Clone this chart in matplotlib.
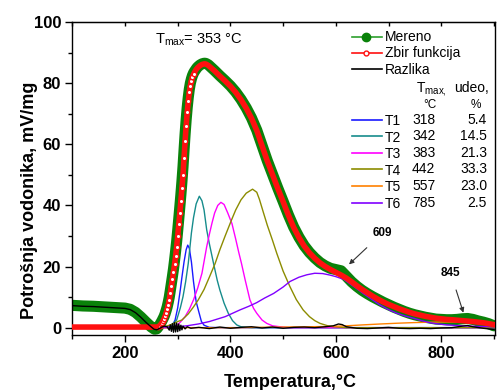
import numpy as np
import matplotlib
matplotlib.use("Agg")
import matplotlib.pyplot as plt
from matplotlib.ticker import MultipleLocator

plt.rcParams['font.family'] = ['Liberation Sans', 'DejaVu Sans']
plt.rcParams['mathtext.default'] = 'regular'

# ---- data ----
# temperature grid for measured / fitted curves (deg C)
T_main = np.concatenate([[100, 120, 140, 160, 180, 200, 210, 220, 230, 240, 250, 256, 260],
                         np.arange(262, 362, 2), np.arange(370, 910, 10)])

mereno = [7.3, 7.1, 7.0, 6.8, 6.6, 6.4, 6.0, 5.0, 3.5, 1.8, 0.2, -0.5, -0.4,
          0.0, 0.5, 1.0, 1.6, 2.2, 2.9, 3.6, 4.5, 5.6, 6.8, 8.3, 10.0, 12.2, 14.5, 16.8, 19.2,
          22.0, 25.0, 28.2, 31.8, 35.6, 39.5, 43.5, 47.8, 52.5, 58.0, 63.3, 68.0, 72.0, 75.3,
          78.0, 80.0, 81.4, 82.5, 83.3, 83.9, 84.4, 84.9, 85.3, 85.6, 85.9, 86.1, 86.3, 86.4,
          86.5, 86.5, 86.4, 86.2, 86.0, 85.7,
          84.1, 82.4, 80.8, 79.1, 77.1, 74.7, 71.9, 68.6, 64.6, 59.6, 54.6, 50.1, 45.6, 41.3,
          36.9, 32.9, 29.6, 26.8, 24.6, 22.8, 21.3, 20.2, 19.4, 19.0, 18.6, 16.8, 15.0, 13.5,
          12.2, 11.1, 10.1, 9.2, 8.3, 7.5, 6.7, 6.0, 5.3, 4.7, 4.2, 3.8, 3.4, 3.1, 2.8, 2.7,
          2.6, 2.6, 2.7, 2.9, 3.0, 2.7, 2.2, 1.8, 1.3, 0.6]

zbir = [0.2, 0.2, 0.2, 0.2, 0.2, 0.2, 0.2, 0.2, 0.2, 0.2, 0.2, 0.2, 0.2,
        0.2, 0.4, 0.7, 1.1, 1.6, 2.2, 2.9, 3.7, 4.8, 6.0, 7.4, 9.1, 11.3, 13.6, 15.9, 18.2,
        20.7, 23.4, 26.5, 30.0, 33.8, 37.6, 41.5, 45.6, 50.0, 55.5, 61.0, 66.0, 70.5, 74.0,
        77.0, 79.2, 80.8, 82.0, 82.9, 83.6, 84.2, 84.7, 85.1, 85.4, 85.7, 85.9, 86.1, 86.2,
        86.3, 86.3, 86.2, 86.0, 85.8, 85.5,
        84.0, 82.3, 80.7, 79.0, 77.0, 74.6, 71.8, 68.5, 64.5, 59.5, 54.5, 50.0, 45.5, 41.2,
        36.8, 32.8, 29.5, 26.7, 24.5, 22.7, 21.2, 20.0, 19.0, 18.1, 17.2, 16.2, 15.0, 13.7,
        12.5, 11.4, 10.3, 9.3, 8.4, 7.6, 6.9, 6.2, 5.6, 5.0, 4.5, 4.1, 3.7, 3.4, 3.1, 2.9,
        2.7, 2.6, 2.45, 2.3, 2.15, 2.0, 1.8, 1.6, 1.3, 1.0]

T_diff = [100, 120, 140, 160, 180, 200, 210, 220, 230, 240, 250, 255, 260, 265, 270, 275, 280,
          284, 286, 288, 290, 292, 294, 296, 298, 300, 302, 304, 306, 308, 310, 314, 318, 325,
          340, 360, 380, 400, 420, 440, 460, 480, 500, 520, 540, 560, 580, 595, 605, 612, 620,
          640, 660, 680, 700, 720, 740, 760, 780, 800, 820, 840, 850, 860, 880, 900]
razlika = [7.2, 7.0, 6.9, 6.7, 6.5, 6.3, 5.9, 4.9, 3.4, 1.7, 0.2, -0.5, -0.7, -0.3, 0.2, 0.5, 0.3,
           -0.8, 0.9, -1.2, 1.3, -1.5, 1.6, -1.4, 1.5, -1.3, 1.2, -1.0, 0.8, -0.7, 0.5, -0.4, 0.3,
           -0.2, 0.1, -0.3, 0.2, -0.2, 0.1, 0.3, -0.1, 0.2, -0.2, 0.1, 0.2, 0.0, 0.3, 0.6, 1.2,
           1.0, 0.3, -0.2, -0.3, -0.1, 0.1, -0.2, -0.3, -0.2, -0.3, -0.1, 0.0, 0.5, 0.7, 0.3,
           -0.2, -0.6]

# fitted components
T_t1 = [100, 280, 290, 295, 300, 305, 308, 312, 316, 319, 322, 326, 330, 335, 340, 345, 350, 360, 380, 900]
t1 = [0, 0, 0.8, 2.5, 6.5, 12.5, 16.5, 21.5, 25.5, 27.0, 26.0, 21.5, 15.0, 8.5, 5.2, 2.0, 0.8, 0.1, 0, 0]

T_t2 = [100, 270, 280, 290, 298, 305, 310, 315, 320, 326, 330, 335, 341, 346, 350, 355, 360, 368,
        375, 380, 388, 396, 404, 412, 420, 440, 900]
t2 = [0, 0, 0.4, 1.2, 2.5, 6.5, 10.1, 15.0, 21.0, 31.0, 36.0, 40.5, 43.0, 41.5, 38.5, 32.0, 27.5,
      21.0, 15.5, 12.3, 8.0, 4.7, 2.3, 0.9, 0.3, 0, 0]

T_t3 = [100, 280, 295, 305, 314, 322, 330, 338, 346, 355, 360, 365, 370, 376, 382, 388, 395, 403,
        410, 416, 421, 428, 437, 444, 450, 460, 469, 480, 494, 510, 900]
t3 = [0, 0, 0.3, 1.8, 3.6, 6.0, 9.1, 13.0, 17.8, 26.5, 30.5, 34.2, 37.5, 40.0, 41.0, 40.3, 37.5,
      34.0, 29.0, 24.5, 21.0, 15.6, 9.1, 6.3, 4.7, 2.5, 1.4, 0.6, 0.3, 0, 0]

T_t4 = [100, 270, 288, 300, 308, 320, 330, 339, 350, 360, 371, 380, 390, 402, 410, 420, 430, 442,
        450, 455, 462, 470, 480, 488, 500, 513, 525, 538, 550, 560, 570, 585, 596, 620, 900]
t4 = [0, 0, 1.0, 2.0, 2.5, 4.5, 6.8, 9.1, 12.5, 16.5, 21.0, 25.5, 30.0, 35.2, 38.5, 41.8, 44.0,
      45.3, 44.3, 42.0, 38.0, 33.5, 28.5, 24.3, 18.5, 13.4, 9.2, 5.8, 3.6, 2.3, 1.4, 0.6, 0.3, 0, 0]

T_t5 = [100, 420, 450, 500, 550, 589, 620, 650, 684, 716, 747, 780, 811, 840, 874, 900]
t5 = [0, 0, 0.1, 0.2, 0.3, 0.4, 0.6, 0.9, 1.2, 1.45, 1.65, 1.8, 1.85, 1.8, 1.5, 1.1]

T_t6 = [100, 250, 300, 317, 339, 360, 390, 418, 435, 450, 465, 482, 500, 513, 530, 545, 560, 575,
        589, 600, 615, 630, 652, 668, 684, 700, 716, 732, 747, 763, 779, 795, 811, 840, 870, 900]
t6 = [0, 0, 0.3, 0.6, 1.2, 2.0, 3.6, 5.8, 7.0, 8.2, 9.7, 11.2, 13.3, 15.1, 16.5, 17.3, 17.8, 17.7,
      17.2, 16.7, 15.8, 14.0, 11.2, 9.3, 7.4, 5.9, 4.7, 3.8, 3.1, 2.3, 1.6, 1.2, 0.9, 0.6, 0.4, 0.3]

comp_names = ['T1', 'T2', 'T3', 'T4', 'T5', 'T6']
comp_tmax = ['318', '342', '383', '442', '557', '785']
comp_udeo = ['5.4', '14.5', '21.3', '33.3', '23.0', '2.5']
comp_colors = ['#1a1aff', '#168c8c', '#ff00ff', '#8c8c00', '#ff8000', '#8000ff']

# ---- figure ----
W, H = 498, 390
fig = plt.figure(figsize=(W / 100, H / 100), dpi=100)
ax = fig.add_axes([72.3 / W, 1 - 335 / H, (495 - 72.3) / W, (335 - 22) / H])

green = '#0a820a'
ax.plot(T_main, mereno, color=green, lw=8, solid_capstyle='round', solid_joinstyle='round',
        zorder=2)

comps = [(T_t1, t1), (T_t2, t2), (T_t3, t3), (T_t4, t4), (T_t5, t5), (T_t6, t6)]
for (tx, ty), c in zip(comps, comp_colors):
    ax.plot(tx, ty, color=c, lw=1.0, zorder=3)

ax.plot(T_main, zbir, color='#ff1010', lw=4.0, zorder=4)
rise = (T_main >= 262) & (T_main <= 330)
ax.plot(T_main[rise], np.array(zbir)[rise], 'o', ms=3.2, mfc='white', mec='#ff1010',
        mew=1.0, zorder=5)

ax.plot(T_diff, razlika, color='black', lw=1.0, zorder=6)

ax.set_xlim(100, 902)
ax.set_ylim(-2.4, 100)
ax.xaxis.set_major_locator(MultipleLocator(200))
ax.xaxis.set_minor_locator(MultipleLocator(100))
ax.yaxis.set_major_locator(MultipleLocator(20))
ax.yaxis.set_minor_locator(MultipleLocator(10))
ax.tick_params(which='both', direction='out', width=1.0, top=False, right=False)
ax.tick_params(which='major', length=5)
ax.tick_params(which='minor', length=3)
for lab in ax.get_xticklabels() + ax.get_yticklabels():
    lab.set_fontweight('bold')
ax.tick_params(labelsize=12, pad=3)
for s in ax.spines.values():
    s.set_linewidth(1.0)

# inward ticks on the top edge
top = ax.secondary_xaxis('top')
top.xaxis.set_major_locator(MultipleLocator(100))
top.tick_params(direction='in', length=3, width=1.0, labeltop=False)

ax.set_xlabel('Temperatura,°C', fontsize=13, fontweight='bold')
ax.xaxis.set_label_coords(0.515, -0.125)
ax.set_ylabel('Potrošnja vodonika, mV/mg', fontsize=13, fontweight='bold')
ax.yaxis.set_label_coords(-0.082, 0.43)


def fx(px):
    return px / W


def fy(py):
    return 1 - py / H


fig.text(fx(155), fy(40), r'T$_{max}$= 353 °C', fontsize=10.5, va='center')

# legend drawn by hand
def legline(py, color, **kw):
    fig.add_artist(plt.Line2D([fx(352), fx(382)], [fy(py), fy(py)], color=color, lw=1.2, **kw))

legline(36.7, '#2ea02e')
fig.add_artist(plt.Line2D([fx(366)], [fy(36.7)], marker='o', ms=6, color=green))
fig.text(fx(385), fy(37), 'Mereno', fontsize=10, va='center')
legline(53.3, '#ff1010')
fig.add_artist(plt.Line2D([fx(366)], [fy(53.3)], marker='o', ms=3.5, mfc='white',
                          mec='#ff1010', mew=1.0))
fig.text(fx(385), fy(53.5), 'Zbir funkcija', fontsize=10, va='center')
legline(69, 'black')
fig.text(fx(385), fy(69.5), 'Razlika', fontsize=10, va='center')

fig.text(fx(416), fy(88.5), r'T$_{max,}$', fontsize=10, va='center')
fig.text(fx(489), fy(88.5), 'udeo,', fontsize=10, va='center', ha='right')
fig.text(fx(430), fy(105), '°C', fontsize=8.5, va='center', ha='center')
fig.text(fx(476), fy(105), '%', fontsize=8.5, va='center', ha='center')

for i, (n, tm, ud, c) in enumerate(zip(comp_names, comp_tmax, comp_udeo, comp_colors)):
    py = 119.5 + i * 16.6
    legline(py, c)
    fig.text(fx(385), fy(py + 1.5), n, fontsize=10, va='center')
    fig.text(fx(412), fy(py), tm, fontsize=10, va='center')
    fig.text(fx(487), fy(py), ud, fontsize=10, va='center', ha='right')

ax.annotate('609', xy=(625, 20.7), xytext=(688, 30.9), fontsize=8.5, fontweight='bold',
            ha='center', va='center',
            arrowprops=dict(arrowstyle='-|>', color='#333333', lw=0.8, mutation_scale=7,
                            shrinkA=6, shrinkB=0))
ax.annotate('845', xy=(842, 4.9), xytext=(818, 17.8), fontsize=8.5, fontweight='bold',
            ha='center', va='center',
            arrowprops=dict(arrowstyle='-|>', color='#333333', lw=0.8, mutation_scale=7,
                            shrinkA=6, shrinkB=0))

fig.savefig('out.png', dpi=100)
